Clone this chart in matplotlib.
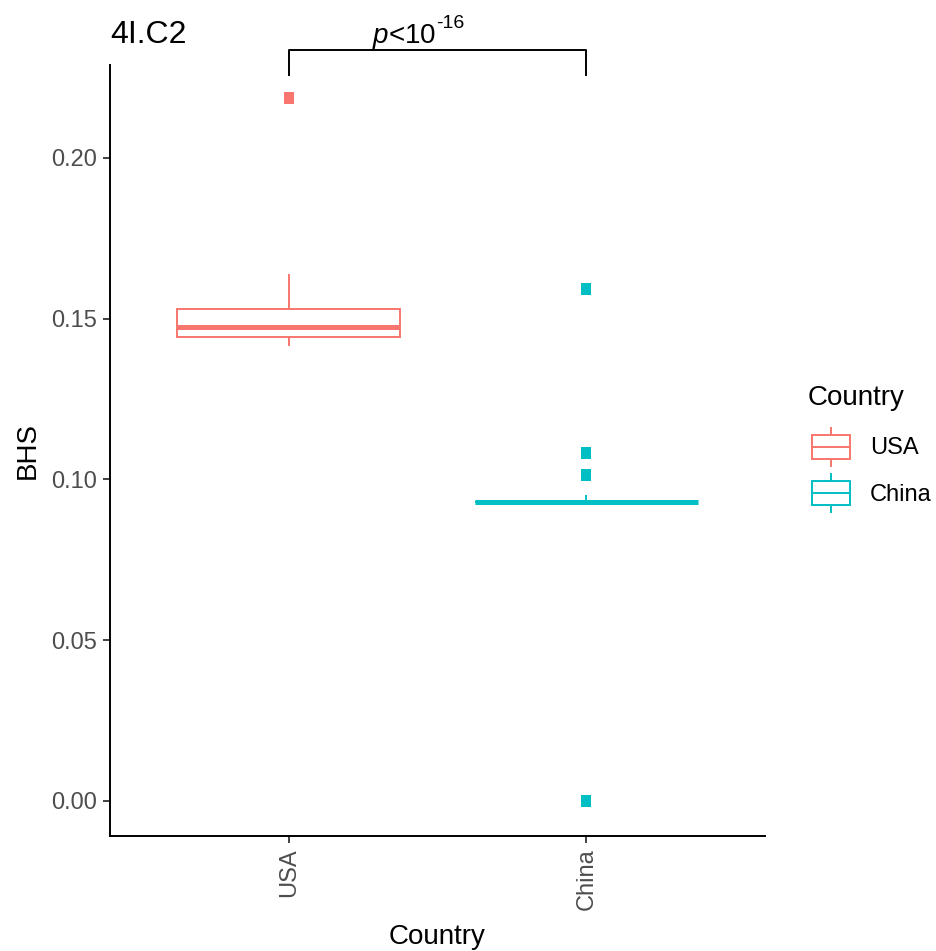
import matplotlib
matplotlib.use("Agg")
import matplotlib.pyplot as plt
from matplotlib.patches import Patch, Rectangle
from matplotlib.lines import Line2D
from matplotlib.legend_handler import HandlerBase

plt.rcParams['font.family'] = ['Liberation Sans', 'DejaVu Sans']
plt.rcParams['mathtext.fontset'] = 'custom'
plt.rcParams['mathtext.rm'] = 'Liberation Sans'
plt.rcParams['mathtext.it'] = 'Liberation Sans:italic'

# ---------------------------
# Dados
# ---------------------------
paises = ["USA", "China"]
cores = ["#F8766D", "#00BFC4"]
q1 = [0.1443, 0.0930]
mediana = [0.1474, 0.0930]
q3 = [0.1530, 0.0930]
bigode_inf = [0.1418, 0.0930]
bigode_sup = [0.1636, 0.0949]
outliers = [[0.2187], [0.1593, 0.1082, 0.1014, 0.0000]]
y_ticks = [0.00, 0.05, 0.10, 0.15, 0.20]
y_labels = ["0.00", "0.05", "0.10", "0.15", "0.20"]
titulo = "4I.C2"
texto_p = r'$\mathit{p}$<10'
expoente_p = "-16"


# ---------------------------
# Legenda estilo ggplot (caixa com bigodes)
# ---------------------------
class HandlerCaixa(HandlerBase):
    def create_artists(self, legend, orig_handle, xdescent, ydescent,
                       width, height, fontsize, trans):
        cor = orig_handle.get_edgecolor()
        x0, y0 = -xdescent, -ydescent
        caixa = Rectangle((x0, y0 + 0.18 * height), width, 0.64 * height,
                          fill=False, ec=cor, lw=1.4, transform=trans)
        med = Line2D([x0, x0 + width], [y0 + 0.5 * height] * 2,
                     color=cor, lw=1.4, transform=trans)
        b1 = Line2D([x0 + width / 2] * 2, [y0, y0 + 0.18 * height],
                    color=cor, lw=1.4, transform=trans)
        b2 = Line2D([x0 + width / 2] * 2, [y0 + 0.82 * height, y0 + height],
                    color=cor, lw=1.4, transform=trans)
        return [caixa, med, b1, b2]


fig = plt.figure(figsize=(9.37, 9.51), dpi=100)
ax = fig.add_axes([110 / 937, 1 - 836 / 951, 655 / 937, 771 / 951])

posicoes = [1, 2]
stats = []
for i in range(len(paises)):
    stats.append({
        "med": mediana[i], "q1": q1[i], "q3": q3[i],
        "whislo": bigode_inf[i], "whishi": bigode_sup[i],
        "fliers": [], "label": paises[i],
    })

for i, cor in enumerate(cores):
    ax.bxp([stats[i]], positions=[posicoes[i]], widths=0.75, showcaps=False,
           showfliers=False, patch_artist=True,
           boxprops=dict(facecolor="white", edgecolor=cor, linewidth=1.4),
           whiskerprops=dict(color=cor, linewidth=1.4),
           medianprops=dict(color=cor, linewidth=3.6, solid_capstyle="butt"))
    ax.plot([posicoes[i]] * len(outliers[i]), outliers[i], linestyle="none",
            marker=[(-0.75, -1), (0.75, -1), (0.75, 1), (-0.75, 1)],
            markersize=9, color=cor, markeredgewidth=0, zorder=3)

ax.set_xlim(0.4, 2.6)
ax.set_ylim(-0.0109, 0.2289)
ax.set_xticks(posicoes)
ax.set_xticklabels(paises, rotation=90, fontsize=17, color="#4D4D4D")
ax.set_yticks(y_ticks)
ax.set_yticklabels(y_labels, fontsize=17, color="#4D4D4D")
ax.tick_params(axis="both", length=5, width=1.3, color="#333333", pad=4)

for lado in ["top", "right"]:
    ax.spines[lado].set_visible(False)
for lado in ["left", "bottom"]:
    ax.spines[lado].set_linewidth(1.4)
    ax.spines[lado].set_color("black")

ax.set_xlabel("Country", fontsize=20, labelpad=10)
ax.set_ylabel("BHS", fontsize=20, labelpad=8)
ax.set_title(titulo, loc="left", fontsize=23, pad=16)

# colchete de significância
y_col = 0.2336
y_pe = 0.2258
ax.plot([1, 1, 2, 2], [y_pe, y_col, y_col, y_pe], color="black",
        linewidth=1.4, clip_on=False)
t_p = ax.text(1.279, 0.2358, texto_p, ha="left", va="baseline", fontsize=20,
              clip_on=False)
ax.annotate(expoente_p, xy=(1.0, 0.66), xycoords=t_p, ha="left",
            va="bottom", fontsize=14, annotation_clip=False)

# legenda
fig.text(808 / 937, 1 - 398 / 951, "Country", fontsize=20, ha="left", va="center")
handles = [Patch(edgecolor=c, facecolor="none", label=p) for p, c in zip(paises, cores)]
leg = fig.legend(handles=handles, loc="upper left",
                 bbox_to_anchor=(812 / 937, 1 - 428 / 951), frameon=False,
                 fontsize=17, handlelength=1.6,
                 handleheight=2.08, labelspacing=0.36, handletextpad=0.85,
                 borderpad=0, borderaxespad=0,
                 handler_map={Patch: HandlerCaixa()})

fig.savefig("out.png", dpi=100)
